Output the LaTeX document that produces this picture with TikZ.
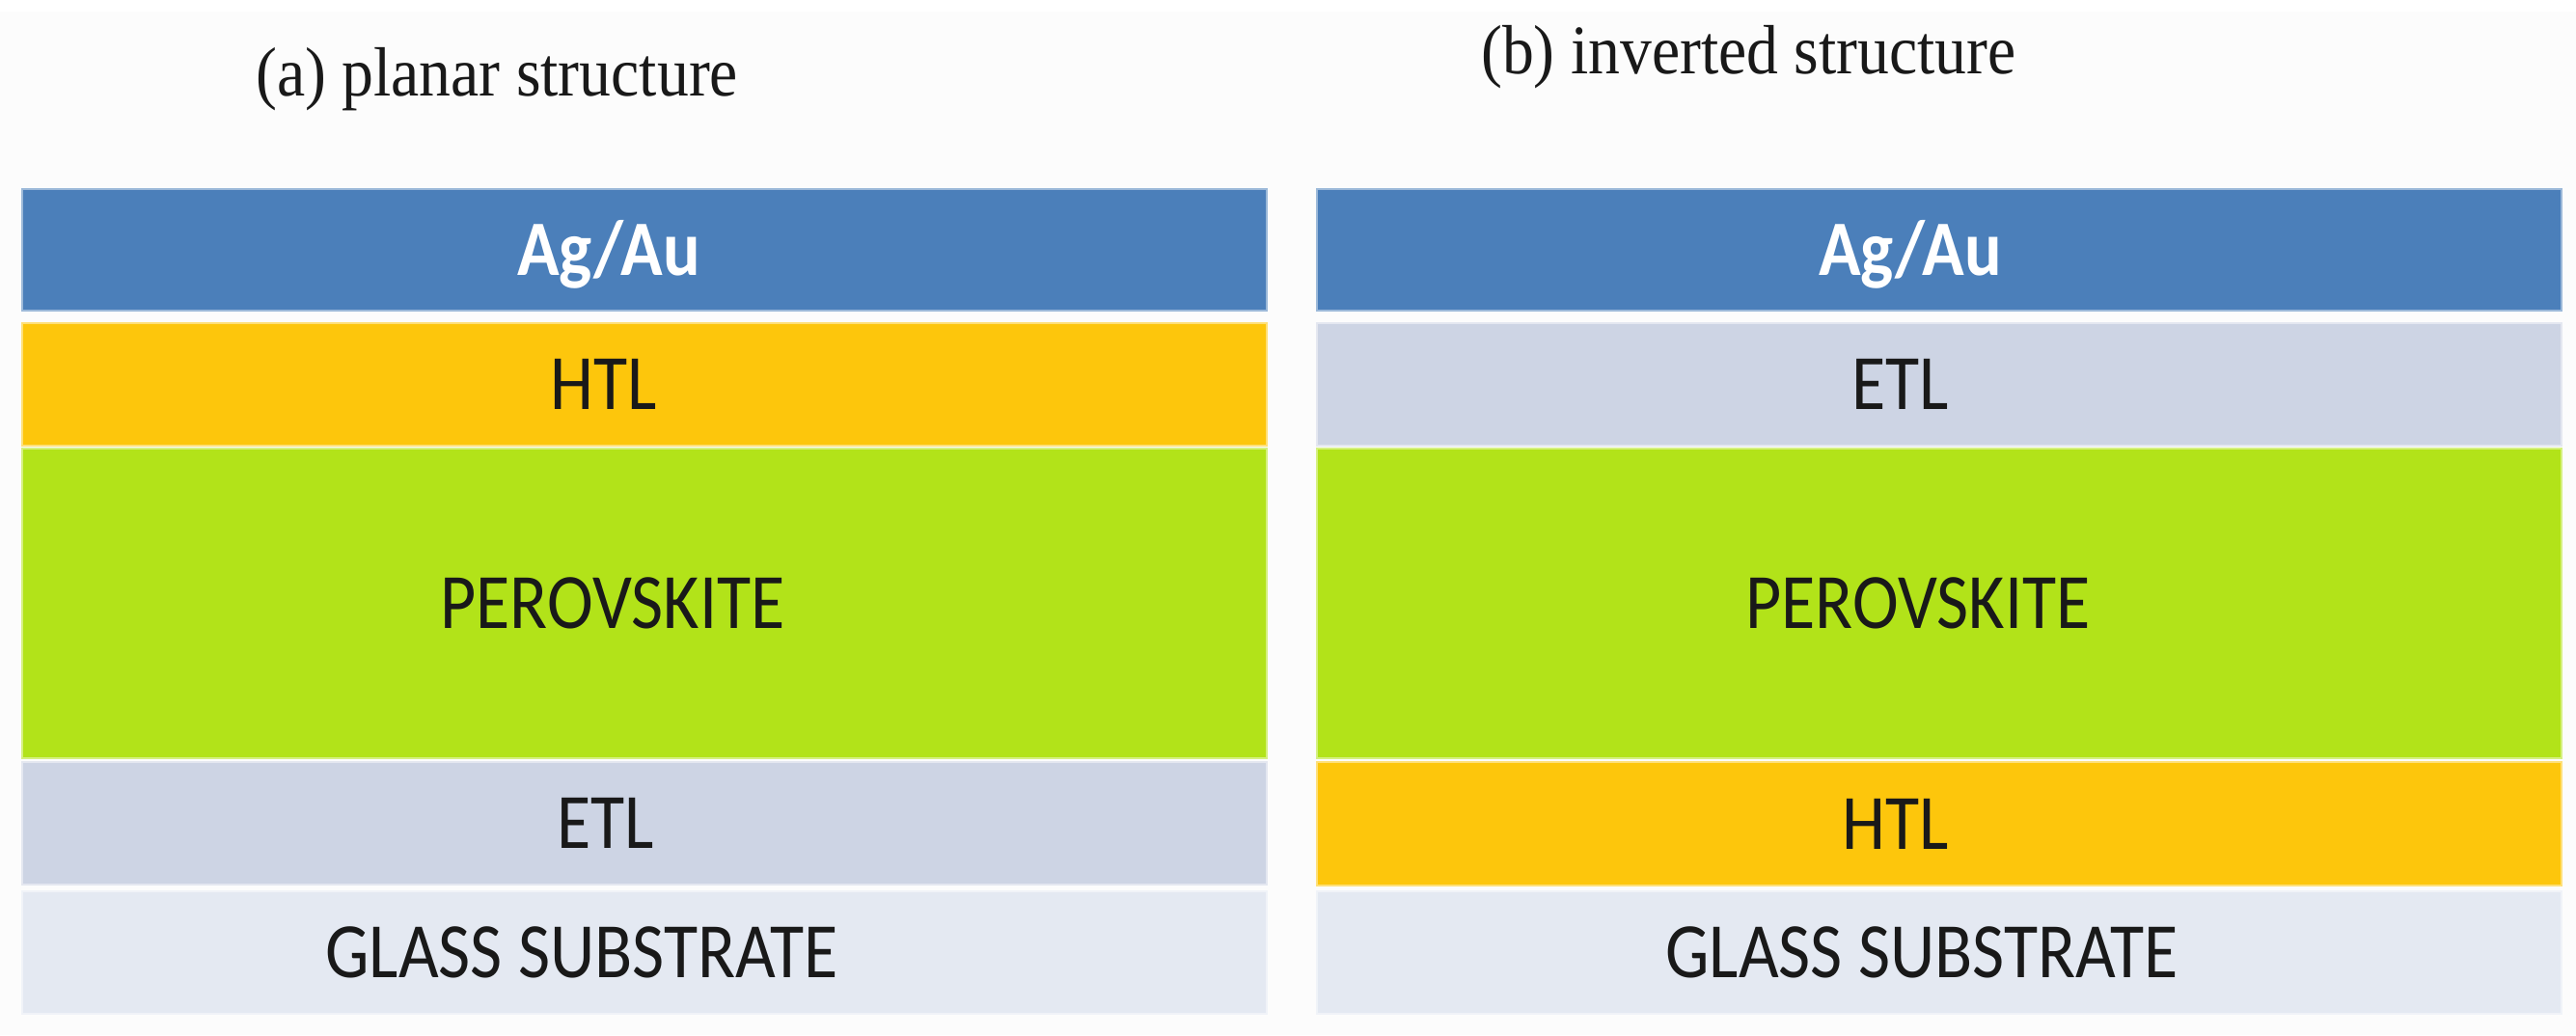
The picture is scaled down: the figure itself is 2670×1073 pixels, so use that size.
\documentclass[tikz,border=0pt]{standalone}
\usepackage{fontspec}
\setmainfont{Liberation Serif}
\newfontfamily\calib{Carlito}
\definecolor{bgc}{HTML}{FCFCFC}
\definecolor{cblue}{HTML}{4B7FBA}
\definecolor{corange}{HTML}{FDC60C}
\definecolor{cgreen}{HTML}{B2E319}
\definecolor{cetl}{HTML}{CDD4E4}
\definecolor{cglass}{HTML}{E4E9F2}
\begin{document}
\begin{tikzpicture}[x=1pt,y=-1pt,
  layer/.style={draw=#1!55!white, line width=2pt, fill=#1, inner sep=0pt,
    anchor=north west, minimum width=1290pt},
  lbl/.style={font=\calib\fontsize{72}{80}\selectfont, inner sep=0pt, anchor=base, text=black!90},
  lblw/.style={font=\calib\bfseries\fontsize{72}{80}\selectfont, inner sep=0pt, anchor=base, text=white},
  ttl/.style={font=\fontsize{65.7}{70}\selectfont, inner sep=0pt, anchor=base west, text=black!90}]
\useasboundingbox (0,0) rectangle (2670,1073);
\fill[bgc] (0,12) rectangle (2670,1073);
\fill[white] (0,0) rectangle (2670,12);
% titles
\node[ttl] (ta) at (265,99) {\scalebox{1}[1.1]{(a) planar structure}};
\node[ttl] (tb) at (1535,76) {\scalebox{1}[1.1]{(b) inverted structure}};
% left stack
\node[layer=cblue,   minimum height=126pt] (aAg)  at (22,195) {};
\node[layer=corange, minimum height=127pt] (aHTL) at (22,334) {};
\node[layer=cgreen,  minimum height=321pt] (aPer) at (22,464) {};
\node[layer=cetl,    minimum height=127pt] (aETL) at (22,789) {};
\node[layer=cglass,  minimum height=127pt] (aGl)  at (22,923) {};
% right stack
\node[layer=cblue,   minimum height=126pt] (bAg)  at (1364,195) {};
\node[layer=cetl,    minimum height=127pt] (bETL) at (1364,334) {};
\node[layer=cgreen,  minimum height=321pt] (bPer) at (1364,464) {};
\node[layer=corange, minimum height=128pt] (bHTL) at (1364,789) {};
\node[layer=cglass,  minimum height=127pt] (bGl)  at (1364,923) {};
% labels left
\node[lblw] (laAg)  at ([xshift=-37pt,yshift=-26pt]aAg.center)  {\scalebox{1}[1.13]{Ag/Au}};
\node[lbl]  (laHTL) at ([xshift=-42pt,yshift=-26pt]aHTL.center) {\scalebox{1}[1.13]{HTL}};
\node[lbl]  (laPer) at ([xshift=-33pt,yshift=-26pt]aPer.center) {\scalebox{1}[1.13]{PEROVSKITE}};
\node[lbl]  (laETL) at ([xshift=-40pt,yshift=-26pt]aETL.center) {\scalebox{1}[1.13]{ETL}};
\node[lbl]  (laGl)  at ([xshift=-65pt,yshift=-26pt]aGl.center)  {\scalebox{1}[1.13]{GLASS SUBSTRATE}};
% labels right
\node[lblw] (lbAg)  at ([xshift=-30pt,yshift=-26pt]bAg.center)  {\scalebox{1}[1.13]{Ag/Au}};
\node[lbl]  (lbETL) at ([xshift=-40pt,yshift=-26pt]bETL.center) {\scalebox{1}[1.13]{ETL}};
\node[lbl]  (lbPer) at ([xshift=-22pt,yshift=-26pt]bPer.center) {\scalebox{1}[1.13]{PEROVSKITE}};
\node[lbl]  (lbHTL) at ([xshift=-45pt,yshift=-26pt]bHTL.center) {\scalebox{1}[1.13]{HTL}};
\node[lbl]  (lbGl)  at ([xshift=-18pt,yshift=-26pt]bGl.center)  {\scalebox{1}[1.13]{GLASS SUBSTRATE}};
\end{tikzpicture}
\end{document}
